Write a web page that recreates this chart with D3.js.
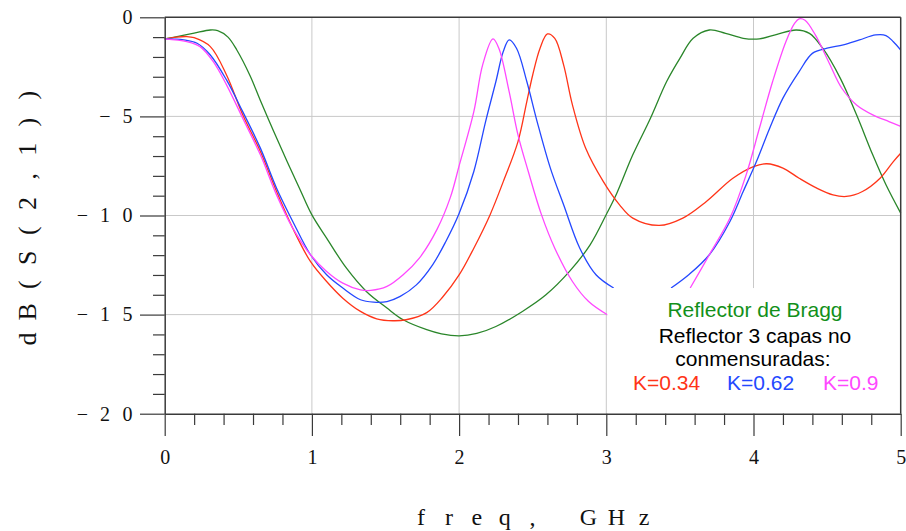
<!DOCTYPE html>
<html>
<head>
<meta charset="utf-8">
<script src="https://cdn.jsdelivr.net/npm/d3@7"></script>
<style>
  html, body { margin: 0; padding: 0; background: #fff; }
  svg { display: block; }
</style>
</head>
<body>
<svg id="chart" width="906" height="531"></svg>
<script>
// |S21| in dB versus frequency: Bragg reflector vs. 3-layer non-commensurate reflectors
const freqTicks = [0, 1, 2, 3, 4, 5];
const dbTicks = [0, -5, -10, -15, -20];

// [freq GHz, dB]; null splits a trace into separate pieces
const bragg = [[0,-1.09],[0.1,-0.95],[0.2,-0.8],[0.31,-0.64],[0.36,-0.67],[0.43,-1.0],[0.49,-1.65],[0.58,-2.95],[0.65,-4.2],[0.74,-5.75],[0.83,-7.25],[0.92,-8.7],[1.0,-9.97],[1.10,-11.14],[1.235,-12.66],[1.37,-13.83],[1.51,-14.67],[1.62,-15.26],[1.78,-15.76],[1.88,-15.97],[2.0,-16.07],[2.12,-15.95],[2.25,-15.6],[2.43,-14.84],[2.59,-14.0],[2.75,-12.82],[2.89,-11.48],[3.0,-9.95],[3.07,-8.9],[3.18,-6.94],[3.30,-5.09],[3.41,-3.24],[3.50,-2.07],[3.59,-1.06],[3.70,-0.64],[3.81,-0.81],[3.93,-1.06],[4.04,-1.09],[4.16,-0.86],[4.29,-0.64],[4.38,-0.81],[4.47,-1.56],[4.59,-3.08],[4.70,-4.92],[4.81,-6.94],[4.90,-8.45],[5.0,-9.88]];

const k034 = [[0,-1.09],[0.08,-1.0],[0.15,-0.97],[0.2,-1.03],[0.31,-1.48],[0.42,-2.91],[0.53,-4.92],[0.65,-6.77],[0.76,-8.79],[0.87,-10.64],[0.99,-12.32],[1.10,-13.33],[1.21,-14.17],[1.33,-14.84],[1.44,-15.21],[1.55,-15.31],[1.64,-15.26],[1.78,-14.9],[1.89,-14.1],[2.0,-13.0],[2.10,-11.65],[2.21,-9.97],[2.30,-8.29],[2.40,-6.27],[2.46,-4.25],[2.50,-2.91],[2.55,-1.56],[2.60,-0.84],[2.65,-1.06],[2.71,-2.40],[2.77,-4.42],[2.86,-6.61],[2.98,-8.29],[3.09,-9.46],[3.18,-10.13],[3.36,-10.5],[3.52,-10.13],[3.68,-9.29],[3.86,-8.12],[4.0,-7.53],[4.09,-7.39],[4.20,-7.61],[4.31,-8.12],[4.43,-8.62],[4.54,-8.96],[4.63,-9.04],[4.74,-8.79],[4.86,-8.12],[4.95,-7.28],[5.0,-6.86]];

const k062 = [[0,-1.09],[0.13,-1.14],[0.22,-1.31],[0.31,-1.90],[0.42,-3.16],[0.53,-4.76],[0.65,-6.6],[0.76,-8.62],[0.87,-10.3],[0.99,-11.98],[1.10,-12.99],[1.21,-13.66],[1.33,-14.25],[1.42,-14.37],[1.51,-14.34],[1.60,-14.08],[1.71,-13.5],[1.82,-12.49],[1.91,-11.31],[2.0,-9.9],[2.10,-7.78],[2.18,-5.26],[2.25,-3.24],[2.30,-1.73],[2.34,-1.14],[2.39,-1.56],[2.46,-3.24],[2.53,-5.26],[2.62,-7.61],[2.71,-9.46],[2.82,-11.65],[2.93,-12.99],[3.05,-13.66],
  null,
  [3.44,-13.66],[3.56,-12.99],[3.70,-11.98],[3.84,-10.3],[3.93,-8.79],[4.02,-7.28],[4.11,-5.6],[4.20,-4.08],[4.31,-2.74],[4.40,-1.82],[4.50,-1.56],[4.61,-1.39],[4.72,-1.14],[4.83,-0.89],[4.90,-0.92],[4.95,-1.23],[5.0,-1.65]];

const k090 = [[0,-1.09],[0.15,-1.23],[0.24,-1.48],[0.33,-2.24],[0.42,-3.41],[0.53,-5.09],[0.65,-6.94],[0.76,-8.96],[0.87,-10.64],[0.99,-11.98],[1.10,-12.82],[1.21,-13.41],[1.33,-13.75],[1.40,-13.78],[1.51,-13.58],[1.62,-12.99],[1.73,-12.15],[1.85,-10.7],[1.94,-9.1],[2.0,-7.5],[2.10,-4.76],[2.16,-2.40],[2.23,-1.09],[2.27,-1.56],[2.34,-3.75],[2.40,-5.93],[2.47,-7.78],[2.56,-9.97],[2.65,-11.65],[2.77,-13.33],[2.88,-14.34],[3.01,-15.02],
  null,
  [3.57,-13.66],[3.70,-11.98],[3.84,-10.13],[3.95,-7.95],[4.04,-5.6],[4.13,-3.24],[4.22,-1.23],[4.28,-0.3],[4.31,-0.08],[4.35,-0.15],[4.42,-0.89],[4.51,-2.24],[4.60,-3.58],[4.70,-4.42],[4.81,-4.92],[4.92,-5.26],[5.0,-5.5]];

const seriesNames = ["Reflector de Bragg", "K=0.34", "K=0.62", "K=0.9"];
const seriesData = [bragg, k034, k062, k090];
const seriesColors = ["#2a862a", "#ff3418", "#2448ff", "#ff48ff"];

const svg = d3.select("#chart");
const x = d3.scaleLinear().domain([0, 5]).range([164.7, 900.7]);
const y = d3.scaleLinear().domain([-20, 0]).range([413.7, 17.3]);

const SERIF = "'Liberation Serif', 'Times New Roman', serif";
const SANS = "'Liberation Sans', Arial, sans-serif";
const AXIS = "#3a3a3a";

// grid
const grid = svg.append("g").attr("stroke", "#c9c9c9").attr("stroke-width", 1);
grid.selectAll("line.v").data(freqTicks.filter(d => d > 0 && d < 5)).join("line")
  .attr("class", "v")
  .attr("x1", d => x(d)).attr("x2", d => x(d))
  .attr("y1", y(0)).attr("y2", y(-20));
grid.selectAll("line.h").data(dbTicks.filter(d => d < 0 && d > -20)).join("line")
  .attr("class", "h")
  .attr("x1", x(0)).attr("x2", x(5))
  .attr("y1", d => y(d)).attr("y2", d => y(d));

// traces
const line = d3.line()
  .defined(d => d !== null)
  .x(d => x(d[0])).y(d => y(d[1]))
  .curve(d3.curveCatmullRom.alpha(0.5));

svg.append("g").selectAll("path").data(seriesData).join("path")
  .attr("fill", "none")
  .attr("stroke", (d, i) => seriesColors[i])
  .attr("stroke-width", 1.3)
  .attr("d", line);

// legend panel
const legX0 = x(3) + 1, legY0 = y(-13.66);
svg.append("rect")
  .attr("x", legX0).attr("y", legY0)
  .attr("width", x(5) - legX0).attr("height", y(-20) - legY0)
  .attr("fill", "#fff");

// axes
const yMinor = d3.range(-19, 0).filter(d => d % 5 !== 0);
const xMinor = d3.range(1, 25).map(d => d / 5).filter(d => Math.abs(d - Math.round(d)) > 1e-6);

const yAxisMajor = svg.append("g").attr("transform", `translate(${x(0)},0)`)
  .call(d3.axisLeft(y).tickValues(dbTicks).tickSize(24.7).tickSizeOuter(0).tickFormat(""));
const yAxisMinor = svg.append("g").attr("transform", `translate(${x(0)},0)`)
  .call(d3.axisLeft(y).tickValues(yMinor).tickSize(11.7).tickFormat(""));
yAxisMinor.select(".domain").remove();

const xAxisMajor = svg.append("g").attr("transform", `translate(0,${y(-20)})`)
  .call(d3.axisBottom(x).tickValues(freqTicks).tickSize(22.3).tickSizeOuter(0).tickFormat(d3.format("d")));
const xAxisMinor = svg.append("g").attr("transform", `translate(0,${y(-20)})`)
  .call(d3.axisBottom(x).tickValues(xMinor).tickSize(11.3).tickFormat(""));
xAxisMinor.select(".domain").remove();

[yAxisMajor, yAxisMinor, xAxisMajor, xAxisMinor].forEach(g => {
  g.selectAll("line").attr("stroke", AXIS).attr("stroke-width", 1.2);
  g.selectAll(".domain").attr("stroke", AXIS).attr("stroke-width", 1.5);
});
xAxisMajor.selectAll("text")
  .attr("y", 50).attr("dy", 0)
  .attr("font-family", SERIF).attr("font-size", 20).attr("fill", "#111");

// top and right frame
svg.append("line").attr("x1", x(0)).attr("x2", x(5)).attr("y1", y(0)).attr("y2", y(0))
  .attr("stroke", AXIS).attr("stroke-width", 1.5);
svg.append("line").attr("x1", x(5)).attr("x2", x(5)).attr("y1", y(0)).attr("y2", y(-20))
  .attr("stroke", AXIS).attr("stroke-width", 1.5);

// spaced-out lettering, one glyph per fixed-pitch cell
function spaced(g, str, startCenter, pitch, size) {
  const t = g.append("text")
    .attr("font-family", SERIF).attr("font-size", size).attr("fill", "#111")
    .attr("text-anchor", "middle");
  t.selectAll("tspan").data(Array.from(str)).join("tspan")
    .attr("x", (c, i) => startCenter + i * pitch)
    .attr("y", 0)
    .text(c => c);
  return t;
}

// y tick labels, right-aligned cells
const yLab = svg.append("g");
dbTicks.forEach(v => {
  const s = v === 0 ? "0" : "\u2212" + String(Math.abs(v));
  const g = yLab.append("g").attr("transform", `translate(0,${y(v) + 6.8})`);
  spaced(g, s, 127.5 - (s.length - 1) * 22.5, 22.5, 20);
});

// axis titles
const xTitle = svg.append("g").attr("transform", "translate(0,524.5)");
spaced(xTitle, "freq, GHz", 421, 27.9, 24);

const yTitle = svg.append("g").attr("transform", `translate(35.5,${217})rotate(-90)`);
spaced(yTitle, "dB(S(2,1))", -4.5 * 27.1, 27.1, 26);

// legend text
const leg = svg.append("g").attr("font-family", SANS).attr("font-size", 21);
leg.append("text").attr("x", 755).attr("y", 317).attr("text-anchor", "middle")
  .attr("fill", "#12901a").text(seriesNames[0]);
leg.append("text").attr("x", 755).attr("y", 343).attr("text-anchor", "middle")
  .attr("fill", "#000").text("Reflector 3 capas no");
leg.append("text").attr("x", 753).attr("y", 366).attr("text-anchor", "middle")
  .attr("fill", "#000").text("conmensuradas:");
const kX = [633, 727, 823];
leg.selectAll("text.k").data(seriesNames.slice(1)).join("text")
  .attr("class", "k")
  .attr("x", (d, i) => kX[i]).attr("y", 390)
  .attr("fill", (d, i) => seriesColors[i + 1])
  .text(d => d);
</script>
</body>
</html>
